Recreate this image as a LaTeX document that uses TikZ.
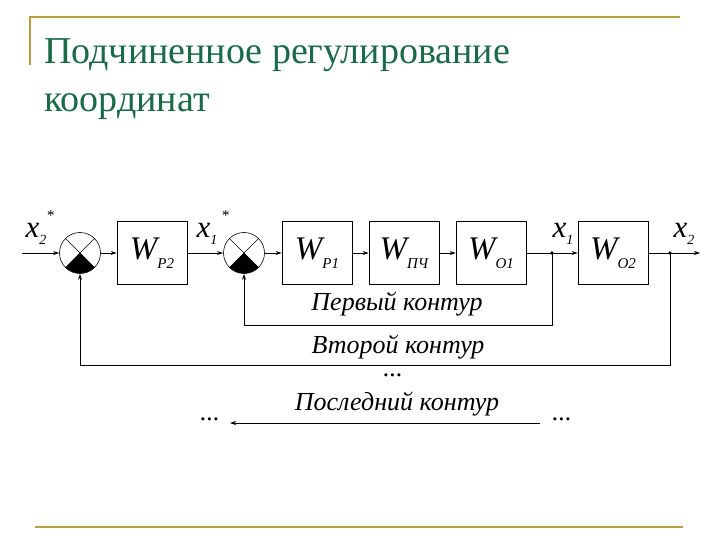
\documentclass[tikz,border=0pt]{standalone}
\usepackage{fontspec}
\setmainfont{Liberation Serif}
\usetikzlibrary{arrows.meta}
\definecolor{gold}{HTML}{B8A040}
\definecolor{ttl}{HTML}{1A6A48}
\begin{document}
\begin{tikzpicture}[x=1pt,y=-1pt,
  blk/.style={draw,line width=0.8pt,minimum width=70pt,minimum height=63pt,inner sep=0pt,font=\itshape\fontsize{33}{33}\selectfont},
  sumc/.style={draw,circle,line width=0.6pt,minimum size=41pt,inner sep=0pt},
  sig/.style={line width=0.7pt,-{Stealth[length=6pt,width=4pt]}},
  ln/.style={line width=0.9pt},
  lab/.style={font=\itshape\fontsize{31}{31}\selectfont,inner sep=0pt},
  sub/.style={font=\itshape\fontsize{15}{15}\selectfont},
  captxt/.style={font=\itshape\fontsize{26}{26}\selectfont,inner sep=0pt}]
\useasboundingbox (0,0) rectangle (720,540);
\draw[gold,line width=1.2pt] (30,65) -- (30,17) -- (680,17);
\draw[gold,line width=1.2pt] (35,527) -- (683,527);
\node[ttl,anchor=base west,font=\fontsize{38}{38}\selectfont,inner sep=0pt] (t1) at (44,64) {Подчиненное регулирование};
\node[ttl,anchor=base west,font=\fontsize{38}{38}\selectfont,inner sep=0pt] (t2) at (44,112) {координат};
% blocks
\node[sumc] (s1) at (80,253) {};
\node[sumc] (s2) at (244,253) {};
\foreach \s in {s1,s2}{
  \draw[line width=0.6pt] (\s.north west) -- (\s.south east);
  \draw[line width=0.6pt] (\s.north east) -- (\s.south west);
  \fill (\s.center) -- ++(45:20.5) arc[start angle=45,end angle=135,radius=20.5] -- cycle;
}
\node[blk] (wp2) at (152,253) {W\raisebox{-9pt}{\fontsize{15}{15}\selectfont P2}};
\node[blk] (wp1) at (317,253) {W\raisebox{-9pt}{\fontsize{15}{15}\selectfont P1}};
\node[blk] (wpch) at (404,253) {W\raisebox{-9pt}{\fontsize{15}{15}\selectfont ПЧ}};
\node[blk] (wo1) at (491,253) {W\raisebox{-9pt}{\fontsize{15}{15}\selectfont O1}};
\node[blk] (wo2) at (613,253) {W\raisebox{-9pt}{\fontsize{15}{15}\selectfont O2}};
\coordinate (in) at (22,253);
\coordinate (n1) at (552,253);
\coordinate (n2) at (670,253);
\coordinate (out) at (700,253);
\draw[sig] (in) -- (s1.west);
\draw[sig] (s1.east) -- (wp2.west);
\draw[sig] (wp2.east) -- (s2.west);
\draw[sig] (s2.east) -- (wp1.west);
\draw[sig] (wp1.east) -- (wpch.west);
\draw[sig] (wpch.east) -- (wo1.west);
\draw[ln] (wo1.east) -- (n1);
\draw[sig] (n1) -- (wo2.west);
\draw[ln] (wo2.east) -- (n2);
\draw[sig] (n2) -- (out);
\fill (n1) circle (1.8pt) (n2) circle (1.8pt);
\draw[sig,line width=0.9pt] (n1) -- (552,325) -- (244,325) -- (s2.south);
\draw[sig,line width=0.9pt] (n2) -- (670,365) -- (80,365) -- (s1.south);
% labels
\node[lab] (lx2s) at (36,234) {x\raisebox{-7pt}{\fontsize{14}{14}\selectfont 2}};
\node[sub] (st1) at (50,216) {*};
\node[lab] (lx1s) at (207,234) {x\raisebox{-7pt}{\fontsize{14}{14}\selectfont 1}};
\node[sub] (st2) at (225,216) {*};
\node[lab] (lx1) at (563,234) {x\raisebox{-7pt}{\fontsize{14}{14}\selectfont 1}};
\node[lab] (lx2) at (684,234) {x\raisebox{-7pt}{\fontsize{14}{14}\selectfont 2}};
\node[captxt] (c1) at (397,304) {Первый контур};
\node[captxt] (c2) at (398,347) {Второй контур};
\node[captxt] (d0) at (393,375) {...};
\node[captxt] (c3) at (397,404) {Последний контур};
\node[captxt] (dl) at (210,419) {...};
\node[captxt] (dr) at (562,419) {...};
\coordinate (ar) at (540,423);
\coordinate (al) at (230,423);
\draw[sig] (ar) -- (al);
\end{tikzpicture}
\end{document}
